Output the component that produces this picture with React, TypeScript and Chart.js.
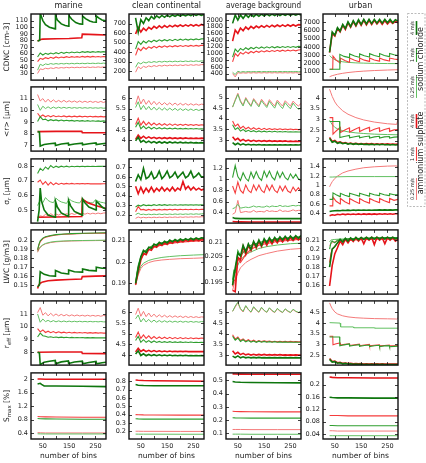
import React, { useEffect, useRef } from 'react';
import { Chart, registerables } from 'chart.js';
Chart.register(...registerables);

// ---------- x grids ----------
const BINS = [30,40,50,60,70,80,90,100,110,120,130,140,150,160,170,180,190,200,210,220,230,240,250,260,270,280,290];
const SMOOTH = [30,35,40,50,60,80,100,130,160,200,250,290];
const FLAT = [30,40,60,100,200,290];
const TAIL = [30,35,40,50,60,80,100,130,160,200,250,285,290];
const MAR_SAW_X = [30,37,40,55,75,97,98,120,147,148,170,200,201,225,252,253,275,290];
const URB_SAW_G_X = [30,68,69,85,105,106,125,143,144,162,181,182,200,219,220,238,257,258,275,290];
const URB_SAW_R_X = [30,42,43,55,70,71,88,105,106,125,143,144,162,181,182,200,219,220,238,257,258,275,290];
const X_TICKS = [50,100,150,200,250];
const X_LABELED = [50,150,250];

const TITLES = ['marine', 'clean continental', 'average background', 'urban'];

// ---------- y ticks ----------
const tkCdncMar = [30,40,50,60,70,80,90,100,110];
const tkCdncCln = [200,300,400,500,600,700];
const tkCdncAvg = [400,600,800,1000,1200,1400,1600,1800,2000];
const tkCdncUrb = [1000,2000,3000,4000,5000,6000,7000];
const tkRMar = [7,8,9,10,11];
const tkRCln = [4,4.5,5,5.5,6];
const tkRAvg = [3,3.5,4,4.5,5];
const tkRUrb = [2,2.5,3,3.5,4];
const tkSgMar = [0.5,0.6,0.7,0.8];
const tkSgCln = [0.2,0.3,0.4,0.5,0.6,0.7];
const tkSgAvg = [0.4,0.6,0.8,1,1.2];
const tkSgUrb = [0.4,0.6,0.8,1,1.2,1.4];
const tkLwcMar = [0.15,0.16,0.17,0.18,0.19,0.2];
const tkLwcCln = [0.19,0.2,0.21];
const tkLwcAvg = [0.195,0.2,0.205,0.21];
const tkLwcUrb = [0.16,0.17,0.18,0.19,0.2,0.21];
const tkReMar = [8,9,10,11];
const tkReCln = [4,4.5,5,5.5,6];
const tkReAvg = [3,3.5,4,4.5,5];
const tkReUrb = [2.5,3,3.5,4,4.5];
const tkSmMar = [0.4,0.8,1.2,1.6,2];
const tkSmCln = [0.2,0.3,0.4,0.5,0.6,0.7,0.8];
const tkSmAvg = [0.1,0.2,0.3,0.4,0.5];
const tkSmUrb = [0.04,0.08,0.12,0.16,0.2];

// ---------- CDNC ----------
const cdncMarG4X = [30,38,40,50,60,75,97,98,105,120,135,148,149,160,175,190,200,201,212,228,240,252,253,262,275,290];
const cdncMarG4 = [79,80,121,110,104,100,97.5,118,111,105,102.5,101.5,117.5,112,107,105,104.5,117,113,109.5,108,107.5,117,114,111,109.5];
const cdncMarR4X = [30,40,50,100,150,198,200,250,290];
const cdncMarR4 = [79,81.5,82,82.5,83,84,89.5,88.8,88.3];
const cdncMarG1 = [55,61,58,60.5,59,61,59.5,61.5,60,62,60.5,62,61,62.5,61.5,62.5,61.5,63,62,63,62,63,62.2,63,62.3,63,62.5];
const cdncMarR1 = [48,53,51.5,54,52.5,54.5,53,55,53.5,55,54,55.5,54.2,55.5,54.5,55.5,54.5,55.8,54.8,55.8,54.8,55.8,55,55.8,55,55.8,55.2];
const cdncMarG025 = [35,44,42,44.5,43.5,45,44,45,44.2,45.2,44.4,45.3,44.5,45.4,44.6,45.5,44.8,45.5,44.8,45.6,45,45.6,45,45.7,45.1,45.7,45.2];
const cdncMarR025 = [30,37,36,38,37,38.5,37.5,39,38,39,38.3,39.3,38.5,39.5,38.7,39.5,38.8,39.7,39,39.8,39,39.8,39.2,40,39.3,40,39.5];

const cdncClnG4 = [760,610,740,700,760,730,775,750,780,760,785,765,788,770,790,775,792,778,793,780,795,782,796,785,797,786,795];
const cdncClnR4 = [590,660,610,650,625,660,640,670,650,675,655,678,660,680,665,682,668,685,670,686,672,688,674,688,675,690,680];
const cdncClnG1 = [430,510,480,515,495,520,505,525,510,528,515,530,518,532,520,534,522,535,525,536,526,537,528,538,530,538,540];
const cdncClnR1 = [365,440,415,450,430,455,440,460,445,462,450,465,452,466,455,467,457,468,458,469,460,470,461,470,462,471,470];
const cdncClnG025 = [240,290,275,295,285,298,290,300,292,302,294,303,296,304,297,305,298,305,299,306,300,306,300,307,301,307,305];
const cdncClnR025 = [188,245,225,250,238,255,245,258,248,260,252,262,254,263,256,264,257,265,258,266,259,267,260,267,261,268,268];

const cdncAvgG4 = [1900,2150,2000,2150,2050,2160,2080,2170,2100,2170,2110,2175,2120,2175,2125,2175,2130,2178,2135,2178,2140,2178,2140,2178,2145,2178,2150];
const cdncAvgR4 = [1370,1700,1600,1760,1680,1790,1720,1810,1750,1820,1770,1830,1780,1840,1790,1845,1800,1850,1805,1855,1810,1858,1815,1860,1820,1862,1855];
const cdncAvgG1 = [890,1130,1050,1150,1100,1170,1120,1180,1140,1190,1150,1195,1160,1200,1165,1205,1170,1205,1175,1208,1180,1210,1182,1210,1185,1212,1210];
const cdncAvgR1 = [750,1000,920,1030,980,1050,1000,1060,1020,1070,1035,1080,1045,1085,1055,1090,1060,1095,1065,1098,1070,1100,1075,1102,1080,1105,1110];
const cdncAvgG025 = [440,370,470,440,460,445,462,448,462,450,463,450,462,452,463,452,462,452,462,453,462,453,462,453,462,453,455];
const cdncAvgR025 = [400,300,430,410,425,412,428,415,428,416,428,417,428,418,428,418,428,418,427,418,427,418,427,418,427,418,420];

const cdncUrbG4 = [3350,5800,5400,6300,5900,6700,6200,7000,6450,7150,6600,7250,6700,7300,6750,7300,6800,7300,6850,7300,6850,7300,6900,7300,6900,7250,7100];
const cdncUrbR4 = [3300,5600,5300,6200,5800,6600,6100,6900,6350,7050,6500,7150,6600,7200,6650,7200,6700,7200,6750,7150,6700,7150,6750,7100,6800,7050,6900];
const cdncUrbG1 = [1300,1300,3100,2850,2700,3150,2900,2750,3150,2920,2780,3180,2950,2800,3200,2960,2820,3200,3050,2950];
const cdncUrbR1 = [1300,1300,2900,2400,2050,2650,2350,2150,2650,2380,2200,2650,2400,2250,2650,2420,2280,2650,2430,2300,2650,2530,2460];
const cdncUrbG025 = [2950,2800,2650,2450,2320,2200,2130,2070,2040,2010,1990,1980];
const cdncUrbR025 = [400,470,530,620,700,820,910,1010,1080,1150,1210,1250];

// ---------- <r> ----------
const rMarR025 = [11.35,10.8,11.0,10.7,10.95,10.7,10.9,10.7,10.85,10.7,10.85,10.7,10.82,10.7,10.8,10.68,10.8,10.68,10.78,10.68,10.78,10.68,10.76,10.67,10.76,10.67,10.75];
const rMarG025 = [10.5,10.0,10.35,10.15,10.3,10.15,10.28,10.17,10.27,10.18,10.26,10.18,10.25,10.18,10.24,10.18,10.24,10.18,10.23,10.18,10.23,10.18,10.22,10.18,10.22,10.18,10.2];
const rMarR1 = [9.75,9.45,9.6,9.45,9.55,9.45,9.55,9.45,9.52,9.45,9.52,9.44,9.5,9.44,9.5,9.44,9.5,9.44,9.49,9.44,9.49,9.44,9.48,9.44,9.48,9.44,9.46];
const rMarG1 = [9.05,9.45,9.2,9.25,9.1,9.2,9.12,9.18,9.1,9.17,9.1,9.15,9.1,9.14,9.08,9.13,9.08,9.12,9.07,9.12,9.07,9.11,9.07,9.1,9.06,9.1,9.06];
const rMarR4X = [30,100,198,200,290];
const rMarR4 = [8.18,8.2,8.2,8.1,8.08];
const rMarG4 = [8.18,8.15,6.95,7.08,7.15,7.2,7.0,7.13,7.2,7.03,7.13,7.2,7.05,7.15,7.22,7.07,7.15,7.18];

const rClnR025 = [5.7,6.1,5.72,5.95,5.7,5.88,5.68,5.84,5.68,5.8,5.67,5.78,5.67,5.77,5.66,5.76,5.66,5.75,5.66,5.74,5.66,5.73,5.66,5.72,5.66,5.71,5.69];
const rClnG025 = [5.55,5.82,5.45,5.65,5.45,5.6,5.43,5.57,5.43,5.55,5.42,5.53,5.42,5.52,5.42,5.51,5.41,5.5,5.41,5.49,5.41,5.48,5.41,5.47,5.41,5.46,5.43];
const rClnR1 = [4.75,5.05,4.72,4.9,4.72,4.85,4.72,4.82,4.72,4.8,4.71,4.79,4.71,4.78,4.71,4.77,4.71,4.76,4.71,4.76,4.71,4.75,4.71,4.75,4.71,4.74,4.72];
const rClnG1 = [4.62,4.85,4.55,4.68,4.55,4.64,4.54,4.62,4.54,4.6,4.54,4.59,4.54,4.58,4.54,4.58,4.54,4.57,4.54,4.57,4.54,4.56,4.54,4.56,4.54,4.55,4.54];
const rClnR4 = [4.05,4.25,4.1,4.2,4.1,4.17,4.1,4.15,4.09,4.14,4.09,4.13,4.09,4.13,4.09,4.12,4.09,4.12,4.09,4.12,4.09,4.11,4.09,4.11,4.09,4.11,4.1];
const rClnG4 = [3.98,4.15,3.92,4.0,3.9,3.97,3.89,3.95,3.88,3.94,3.88,3.93,3.88,3.93,3.88,3.92,3.88,3.92,3.88,3.91,3.88,3.91,3.88,3.9,3.88,3.9,3.88];

const rAvgR025 = [4.55,4.9,5.2,4.85,4.65,5.0,4.8,4.62,4.95,4.78,4.62,4.92,4.76,4.6,4.9,4.74,4.6,4.88,4.73,4.6,4.85,4.72,4.6,4.83,4.7,4.6,4.72];
const rAvgG025 = [4.55,4.85,5.15,4.8,4.6,4.95,4.75,4.58,4.9,4.72,4.56,4.85,4.68,4.53,4.82,4.65,4.5,4.8,4.62,4.48,4.76,4.6,4.47,4.74,4.57,4.45,4.5];
const rAvgR1 = [3.9,3.65,3.75,3.55,3.65,3.52,3.6,3.5,3.58,3.5,3.56,3.49,3.55,3.49,3.54,3.49,3.53,3.49,3.53,3.49,3.52,3.49,3.52,3.49,3.51,3.49,3.5];
const rAvgG1 = [3.72,3.5,3.58,3.42,3.5,3.4,3.46,3.39,3.44,3.38,3.43,3.38,3.42,3.38,3.41,3.38,3.41,3.38,3.4,3.38,3.4,3.38,3.39,3.38,3.39,3.38,3.38];
const rAvgR4 = [3.15,3.0,3.08,2.96,3.03,2.95,3.0,2.94,2.99,2.94,2.98,2.94,2.97,2.94,2.97,2.94,2.96,2.94,2.96,2.94,2.96,2.93,2.95,2.93,2.95,2.93,2.94];
const rAvgG4 = [2.88,2.78,2.85,2.77,2.82,2.77,2.8,2.77,2.79,2.77,2.79,2.77,2.78,2.77,2.78,2.77,2.78,2.77,2.78,2.77,2.78,2.77,2.78,2.77,2.78,2.77,2.78];

const rUrbR025 = [4.42,4.25,4.08,3.82,3.64,3.4,3.24,3.08,2.97,2.87,2.79,2.76,3.0];
const rUrbG025 = [2.95,2.85,2.75,2.62,2.55,2.46,2.41,2.36,2.33,2.3,2.28,2.27];
const rUrbR1 = [3.08,3.08,2.3,2.45,2.62,2.38,2.5,2.6,2.4,2.52,2.62,2.42,2.53,2.62,2.43,2.53,2.6,2.43,2.52,2.58,2.43,2.5,2.52];
const rUrbG1 = [2.9,2.9,2.14,2.19,2.24,2.13,2.18,2.22,2.13,2.18,2.21,2.12,2.17,2.2,2.12,2.17,2.19,2.12,2.16,2.17];
const rUrbR4 = [2.15,1.95,2.0,1.9,1.94,1.87,1.9,1.85,1.88,1.84,1.87,1.83,1.86,1.83,1.85,1.83,1.85,1.82,1.84,1.82,1.84,1.82,1.84,1.82,1.83,1.82,1.83];
const rUrbG4 = [2.1,1.92,1.97,1.87,1.91,1.85,1.88,1.83,1.86,1.82,1.85,1.81,1.84,1.81,1.83,1.8,1.83,1.8,1.82,1.8,1.82,1.8,1.81,1.79,1.81,1.79,1.8];

// ---------- sigma_r ----------
const sgMarG1 = [0.75,0.785,0.77,0.795,0.78,0.805,0.79,0.8,0.792,0.8,0.795,0.8,0.795,0.8,0.796,0.8,0.797,0.8,0.797,0.8,0.798,0.8,0.798,0.8,0.799,0.8,0.8];
const sgMarR1 = [0.69,0.705,0.675,0.695,0.67,0.69,0.672,0.685,0.675,0.683,0.677,0.682,0.678,0.682,0.678,0.681,0.679,0.681,0.679,0.681,0.679,0.68,0.679,0.68,0.679,0.68,0.68];
const sgMarG025 = [0.53,0.57,0.55,0.585,0.565,0.555,0.55,0.58,0.565,0.555,0.55,0.545,0.575,0.562,0.555,0.55,0.548,0.575,0.562,0.555,0.55,0.548,0.57,0.56,0.553,0.55,0.545];
const sgMarR025 = [0.45,0.46,0.455,0.47,0.46,0.475,0.462,0.472,0.465,0.474,0.466,0.475,0.468,0.476,0.469,0.477,0.47,0.477,0.471,0.478,0.472,0.478,0.473,0.479,0.474,0.479,0.48];
const sgMarG4X = [30,36,40,45,55,70,97,98,105,120,147,148,155,170,200,201,210,225,252,253,262,275,290];
const sgMarG4 = [0.42,0.5,0.65,0.56,0.5,0.465,0.45,0.56,0.52,0.48,0.455,0.565,0.53,0.49,0.465,0.575,0.55,0.52,0.5,0.56,0.545,0.52,0.505];
const sgMarR4X = [30,100,198,200,220,250,290];
const sgMarR4 = [0.45,0.452,0.455,0.575,0.55,0.53,0.51];

const sgClnG4 = [0.55,0.62,0.57,0.69,0.58,0.6,0.65,0.58,0.6,0.66,0.58,0.61,0.66,0.59,0.61,0.65,0.59,0.62,0.65,0.59,0.61,0.66,0.59,0.61,0.64,0.6,0.6];
const sgClnR4 = [0.5,0.42,0.49,0.43,0.48,0.44,0.49,0.44,0.48,0.45,0.49,0.45,0.48,0.45,0.49,0.45,0.48,0.46,0.55,0.47,0.5,0.46,0.49,0.46,0.48,0.46,0.47];
const sgClnG1 = [0.28,0.3,0.29,0.305,0.295,0.3,0.295,0.305,0.297,0.305,0.298,0.305,0.298,0.305,0.299,0.305,0.299,0.305,0.3,0.305,0.3,0.305,0.3,0.305,0.3,0.305,0.3];
const sgClnR1 = [0.23,0.285,0.25,0.255,0.245,0.255,0.247,0.255,0.248,0.255,0.249,0.255,0.25,0.256,0.25,0.256,0.25,0.256,0.251,0.256,0.251,0.256,0.252,0.256,0.252,0.256,0.255];
const sgClnG025 = [0.2,0.215,0.2,0.205,0.198,0.205,0.199,0.205,0.2,0.206,0.2,0.206,0.201,0.206,0.201,0.207,0.202,0.207,0.202,0.207,0.203,0.208,0.203,0.208,0.204,0.208,0.21];
const sgClnR025 = [0.16,0.175,0.165,0.172,0.166,0.172,0.167,0.173,0.168,0.173,0.168,0.174,0.169,0.174,0.17,0.175,0.17,0.175,0.171,0.176,0.172,0.176,0.173,0.177,0.174,0.177,0.178];

const sgAvgG1 = [1.03,1.25,1.05,0.98,1.12,1.02,0.97,1.13,1.02,1.14,1.03,0.98,1.15,1.04,1.15,1.04,0.99,1.14,1.03,1.13,1.03,0.99,1.1,1.02,1.09,1.01,0.98];
const sgAvgR1 = [0.88,0.75,0.95,0.8,0.75,0.9,0.8,0.76,0.9,0.8,0.9,0.8,0.76,0.9,0.8,0.9,0.8,0.76,0.88,0.79,0.88,0.79,0.76,0.86,0.79,0.85,0.78];
const sgAvgG025 = [0.47,0.49,0.55,0.48,0.49,0.5,0.49,0.5,0.52,0.5,0.51,0.5,0.5,0.52,0.5,0.52,0.51,0.51,0.53,0.51,0.52,0.51,0.52,0.53,0.52,0.53,0.52];
const sgAvgR025 = [0.37,0.4,0.62,0.4,0.41,0.42,0.41,0.41,0.44,0.41,0.42,0.42,0.41,0.44,0.42,0.43,0.42,0.42,0.45,0.42,0.43,0.42,0.43,0.45,0.43,0.44,0.44];
const sgAvgG4 = [0.31,0.295,0.29,0.29,0.29,0.29];
const sgAvgR4 = [0.24,0.235,0.232,0.23,0.23,0.23];

const sgUrbR025 = [0.97,1.03,1.08,1.15,1.2,1.27,1.31,1.35,1.38,1.4,1.415,1.42,1.38];
const sgUrbG025 = [1.18,1.18,1.185,1.19,1.19,1.19];
const sgUrbG1 = [0.7,0.7,0.84,0.8,0.76,0.83,0.79,0.76,0.83,0.8,0.77,0.83,0.8,0.77,0.83,0.8,0.78,0.83,0.8,0.78,0.82,0.8,0.8];
const sgUrbR1 = [0.56,0.56,0.75,0.66,0.6,0.72,0.65,0.6,0.72,0.66,0.61,0.72,0.66,0.62,0.72,0.67,0.63,0.72,0.67,0.63,0.72,0.68,0.7];
const sgUrbG4 = [0.44,0.45,0.455,0.46,0.455,0.465,0.46,0.468,0.462,0.47,0.464,0.47,0.465,0.472,0.466,0.472,0.467,0.473,0.468,0.474,0.468,0.474,0.469,0.475,0.47,0.475,0.475];
const sgUrbR4 = [0.35,0.37,0.36,0.38,0.37,0.385,0.372,0.385,0.374,0.386,0.375,0.387,0.376,0.388,0.377,0.388,0.378,0.389,0.378,0.39,0.379,0.39,0.38,0.39,0.38,0.39,0.39];

// ---------- LWC ----------
const lwcMarG1 = [0.19,0.196,0.2,0.203,0.2045,0.206,0.207,0.2077,0.2081,0.2085,0.2088,0.209];
const lwcMarR1 = [0.189,0.195,0.199,0.2025,0.204,0.2055,0.2065,0.2073,0.2078,0.2082,0.2085,0.2087];
const lwcMarG025 = [0.188,0.191,0.193,0.1955,0.197,0.1985,0.1993,0.1998,0.2001,0.2003,0.2005,0.2007];
const lwcMarR025 = [0.187,0.19,0.1925,0.195,0.1965,0.198,0.1988,0.1994,0.1998,0.2,0.2002,0.2004];
const lwcMarG4 = [0.148,0.15,0.165,0.162,0.1605,0.16,0.1665,0.1635,0.1625,0.167,0.165,0.1645,0.168,0.1665,0.166,0.17,0.169,0.169];
const lwcMarR4X = [30,35,40,50,70,100,150,197,200,250,290];
const lwcMarR4 = [0.146,0.15,0.152,0.1535,0.1548,0.1555,0.1562,0.1568,0.1595,0.16,0.1603];

const lwcClnG4 = [0.19,0.197,0.2025,0.2055,0.2045,0.207,0.2065,0.2085,0.2078,0.2093,0.2085,0.2098,0.209,0.2103,0.2095,0.2106,0.2098,0.2108,0.2101,0.211,0.2103,0.2112,0.2105,0.2113,0.2107,0.2114,0.2113];
const lwcClnR4 = [0.1895,0.1955,0.201,0.204,0.2035,0.206,0.2055,0.2075,0.207,0.2085,0.2078,0.209,0.2083,0.2095,0.2088,0.2098,0.2092,0.21,0.2095,0.2102,0.2097,0.2104,0.2099,0.2105,0.21,0.2106,0.2105];
const lwcClnG1 = [0.19,0.195,0.1985,0.2025,0.2045,0.2068,0.208,0.209,0.2097,0.2103,0.2108,0.211];
const lwcClnR1 = [0.1893,0.194,0.1975,0.2015,0.2035,0.2058,0.207,0.208,0.2087,0.2093,0.2098,0.21];
const lwcClnG025 = [0.19,0.1925,0.195,0.198,0.1995,0.2008,0.2015,0.2022,0.2026,0.203,0.2033,0.2035];
const lwcClnR025 = [0.1892,0.1918,0.194,0.197,0.1985,0.1998,0.2005,0.201,0.2013,0.2016,0.2018,0.202];

const lwcAvgG4 = [0.194,0.2005,0.206,0.205,0.209,0.2065,0.2095,0.2075,0.2105,0.2085,0.211,0.209,0.2115,0.21,0.2118,0.2103,0.212,0.2107,0.2122,0.211,0.2124,0.2112,0.2125,0.2114,0.2126,0.2116,0.2127];
const lwcAvgR4 = [0.192,0.1915,0.2045,0.2035,0.2085,0.2055,0.209,0.207,0.21,0.208,0.2105,0.2085,0.2108,0.209,0.2111,0.2095,0.2113,0.2099,0.2115,0.2103,0.2117,0.2106,0.2118,0.2108,0.2119,0.211,0.2118];
const lwcAvgG1 = [0.196,0.1995,0.199,0.207,0.205,0.2075,0.209,0.21,0.2107,0.2114,0.2119,0.2122];
const lwcAvgR1 = [0.1935,0.196,0.1955,0.204,0.2025,0.2055,0.2075,0.209,0.2097,0.2104,0.2109,0.2113];
const lwcAvgG025 = [0.195,0.197,0.1985,0.2015,0.2035,0.2055,0.2065,0.2078,0.2085,0.2091,0.2096,0.2098];
const lwcAvgR025 = [0.192,0.194,0.196,0.1985,0.2005,0.2025,0.2037,0.2051,0.2059,0.2068,0.2075,0.2078];

const lwcUrbG4 = [0.18,0.2,0.203,0.207,0.211,0.208,0.212,0.209,0.2125,0.21,0.213,0.2105,0.213,0.211,0.2132,0.211,0.2132,0.2112,0.2133,0.2112,0.2133,0.2113,0.2133,0.2115,0.2132,0.2115,0.2125];
const lwcUrbR4 = [0.159,0.182,0.195,0.2015,0.209,0.205,0.211,0.207,0.2115,0.2085,0.2125,0.209,0.2125,0.206,0.2125,0.21,0.213,0.205,0.213,0.21,0.2128,0.206,0.2128,0.21,0.2128,0.209,0.211];
const lwcUrbG1 = [0.2,0.207,0.209,0.207,0.21,0.2105,0.2115,0.2118,0.212,0.2125,0.2128,0.213];
const lwcUrbR1 = [0.185,0.195,0.2,0.203,0.207,0.209,0.21,0.2105,0.211,0.2115,0.2118,0.212];
const lwcUrbG025 = [0.208,0.21,0.2105,0.2108,0.211,0.2113,0.2115,0.2117,0.2119,0.212,0.2121,0.2122];
const lwcUrbR025 = [0.204,0.206,0.207,0.2085,0.209,0.2097,0.21,0.2103,0.2105,0.2108,0.2109,0.211];

// ---------- r_eff ----------
const reMarR025 = [11.1,11.5,10.9,11.1,10.85,11.05,10.85,11.0,10.85,10.97,10.85,10.95,10.84,10.93,10.84,10.92,10.84,10.9,10.83,10.9,10.83,10.89,10.83,10.88,10.82,10.88,10.85];
const reMarG025 = [11.0,10.35,10.6,10.4,10.5,10.38,10.48,10.38,10.46,10.38,10.45,10.38,10.44,10.38,10.43,10.38,10.43,10.38,10.42,10.38,10.42,10.38,10.41,10.38,10.41,10.38,10.38];
const reMarR1 = [9.85,9.6,9.75,9.55,9.65,9.53,9.62,9.52,9.6,9.52,9.58,9.51,9.57,9.51,9.56,9.51,9.55,9.51,9.55,9.5,9.54,9.5,9.54,9.5,9.53,9.5,9.5];
const reMarG1 = [9.2,9.5,9.3,9.25,9.18,9.22,9.16,9.2,9.15,9.19,9.15,9.18,9.14,9.17,9.14,9.16,9.14,9.16,9.13,9.15,9.13,9.15,9.13,9.14,9.13,9.14,9.13];
const reMarR4X = [30,100,198,200,290];
const reMarR4 = [8.0,8.02,8.02,7.92,7.9];
const reMarG4 = [8.0,7.95,7.05,7.22,7.3,7.36,7.1,7.25,7.33,7.12,7.24,7.31,7.1,7.2,7.28,7.1,7.18,7.22];

const reClnR025 = [5.9,6.2,5.82,6.05,5.8,5.97,5.79,5.92,5.78,5.89,5.78,5.87,5.77,5.85,5.77,5.84,5.77,5.83,5.76,5.82,5.76,5.81,5.76,5.8,5.76,5.79,5.78];
const reClnG025 = [5.7,5.88,5.55,5.72,5.55,5.67,5.54,5.64,5.54,5.62,5.54,5.61,5.54,5.6,5.54,5.59,5.54,5.59,5.54,5.58,5.54,5.58,5.54,5.57,5.54,5.57,5.56];
const reClnR1 = [4.82,5.08,4.78,4.95,4.78,4.9,4.77,4.87,4.77,4.85,4.77,4.84,4.77,4.83,4.77,4.82,4.77,4.82,4.77,4.81,4.77,4.81,4.77,4.8,4.77,4.8,4.79];
const reClnG1 = [4.68,4.88,4.6,4.72,4.6,4.68,4.59,4.66,4.59,4.64,4.59,4.63,4.59,4.63,4.59,4.62,4.59,4.62,4.59,4.61,4.59,4.61,4.59,4.6,4.59,4.6,4.59];
const reClnR4 = [4.15,4.32,4.17,4.25,4.16,4.22,4.16,4.21,4.16,4.2,4.16,4.19,4.16,4.19,4.16,4.18,4.16,4.18,4.16,4.18,4.16,4.17,4.16,4.17,4.16,4.17,4.16];
const reClnG4 = [4.05,4.2,3.98,4.06,3.97,4.03,3.97,4.02,3.97,4.01,3.97,4.0,3.97,4.0,3.97,3.99,3.97,3.99,3.97,3.99,3.97,3.98,3.97,3.98,3.97,3.98,3.97];

const reAvgR025 = [5.05,5.25,5.45,5.15,5.02,5.3,5.12,5.0,5.25,5.1,5.0,5.22,5.08,5.0,5.2,5.07,4.99,5.17,5.06,4.99,5.15,5.05,4.99,5.13,5.04,4.99,5.03];
const reAvgG025 = [5.05,5.3,5.48,5.18,5.05,5.32,5.14,5.02,5.27,5.12,5.02,5.24,5.1,5.01,5.22,5.09,5.01,5.19,5.08,5.0,5.17,5.07,5.0,5.15,5.06,5.0,5.06];
const reAvgR1 = [3.95,3.75,3.85,3.68,3.76,3.65,3.72,3.64,3.7,3.63,3.68,3.63,3.67,3.63,3.66,3.62,3.65,3.62,3.65,3.62,3.64,3.62,3.64,3.62,3.63,3.62,3.62];
const reAvgG1 = [3.88,3.7,3.8,3.64,3.72,3.62,3.68,3.61,3.66,3.6,3.65,3.6,3.64,3.6,3.63,3.6,3.63,3.6,3.62,3.6,3.62,3.6,3.61,3.6,3.61,3.6,3.6];
const reAvgR4 = [3.2,3.05,3.13,3.02,3.08,3.01,3.05,3.0,3.04,3.0,3.03,3.0,3.03,3.0,3.02,3.0,3.02,3.0,3.02,3.0,3.01,3.0,3.01,3.0,3.01,3.0,3.0];
const reAvgG4 = [2.95,2.88,2.96,2.87,2.92,2.87,2.9,2.87,2.89,2.87,2.89,2.87,2.88,2.87,2.88,2.87,2.88,2.87,2.88,2.87,2.88,2.87,2.88,2.87,2.88,2.87,2.87];

const reUrbR025 = [4.95,4.8,4.68,4.52,4.43,4.34,4.29,4.25,4.23,4.21,4.2,4.19,4.25];
const reUrbG025X = [30,70,72,120,122,200,202,290];
const reUrbG025 = [4.02,4.0,3.82,3.82,3.78,3.78,3.76,3.76];
const reUrbR1 = [3.38,3.38,2.98,3.03,3.07,2.97,3.0,3.03,2.95,2.98,3.01,2.94,2.97,3.0,2.94,2.96,2.98,2.93,2.95,2.97,2.93,2.94,2.95];
const reUrbG1 = [3.35,3.35,2.93,2.98,3.02,2.92,2.96,2.99,2.91,2.95,2.97,2.9,2.94,2.96,2.9,2.93,2.94,2.89,2.91,2.92];
const reUrbR4 = [2.34,2.2,2.22,2.14,2.16,2.11,2.13,2.1,2.11,2.09,2.1,2.09,2.1,2.08,2.09,2.08,2.09,2.08,2.09,2.08,2.09,2.08,2.08,2.08,2.08,2.08,2.08];
const reUrbG4 = [2.3,2.17,2.19,2.12,2.14,2.09,2.11,2.08,2.09,2.07,2.08,2.07,2.08,2.06,2.07,2.06,2.07,2.06,2.07,2.06,2.07,2.06,2.06,2.06,2.06,2.06,2.06];

// ---------- Smax ----------
const smMarR4 = [2.01,2.01,2.0,2.0,2.0,2.0];
const smMarG4X = [30,40,45,55,70,100,200,290];
const smMarG4 = [1.86,1.88,1.85,1.8,1.8,1.8,1.79,1.78];
const smMarR1 = [0.89,0.885,0.88,0.875,0.87,0.87];
const smMarG1 = [0.83,0.825,0.82,0.815,0.81,0.81];
const smMarR025 = [0.41,0.405,0.4,0.4,0.4,0.4];
const smMarG025 = [0.375,0.372,0.37,0.37,0.37,0.37];

const smClnR4 = [0.815,0.812,0.808,0.805,0.802,0.8];
const smClnG4 = [0.76,0.752,0.748,0.746,0.745,0.745];
const smClnR1 = [0.4,0.398,0.396,0.395,0.394,0.394];
const smClnG1 = [0.35,0.348,0.346,0.345,0.345,0.345];
const smClnR025 = [0.2,0.2,0.199,0.199,0.198,0.198];
const smClnG025 = [0.166,0.165,0.165,0.165,0.164,0.164];

const smAvgR4 = [0.548,0.547,0.546,0.545,0.545,0.545];
const smAvgG4 = [0.49,0.487,0.485,0.483,0.481,0.48];
const smAvgR1 = [0.267,0.265,0.264,0.263,0.262,0.262];
const smAvgG1 = [0.218,0.217,0.216,0.215,0.215,0.215];
const smAvgR025 = [0.13,0.13,0.13,0.129,0.129,0.129];
const smAvgG025 = [0.095,0.095,0.095,0.094,0.094,0.094];

const smUrbR4 = [0.224,0.223,0.222,0.222,0.221,0.221];
const smUrbG4 = [0.159,0.158,0.157,0.157,0.156,0.156];
const smUrbR1 = [0.1,0.1,0.1,0.099,0.099,0.099];
const smUrbG1 = [0.068,0.068,0.067,0.067,0.067,0.067];
const smUrbR025 = [0.051,0.051,0.05,0.05,0.05,0.05];
const smUrbG025 = [0.035,0.035,0.035,0.035,0.035,0.035];

// ---------- styles ----------
const STY: any = {
  G4: { c: '#0e760e', w: 1.6 },
  G1: { c: '#2f9e2f', w: 1.1 },
  G025: { c: '#62c062', w: 1.0 },
  R4: { c: '#e5141a', w: 1.6 },
  R1: { c: '#f53c3c', w: 1.1 },
  R025: { c: '#f47a7a', w: 1.0 },
};

const s = (k: string, x: number[], y: number[]) => ({ k, x, y });
const P = (min: number, max: number, ticks: number[], series: any[]) => ({ min, max, ticks, series });

const PANELS = [
  [
    P(20, 120, tkCdncMar, [s('G4', cdncMarG4X, cdncMarG4), s('R4', cdncMarR4X, cdncMarR4), s('G1', BINS, cdncMarG1), s('R1', BINS, cdncMarR1), s('G025', BINS, cdncMarG025), s('R025', BINS, cdncMarR025)]),
    P(105, 800, tkCdncCln, [s('G4', BINS, cdncClnG4), s('R4', BINS, cdncClnR4), s('G1', BINS, cdncClnG1), s('R1', BINS, cdncClnR1), s('G025', BINS, cdncClnG025), s('R025', BINS, cdncClnR025)]),
    P(205, 2180, tkCdncAvg, [s('G4', BINS, cdncAvgG4), s('R4', BINS, cdncAvgR4), s('G1', BINS, cdncAvgG1), s('R1', BINS, cdncAvgR1), s('G025', BINS, cdncAvgG025), s('R025', BINS, cdncAvgR025)]),
    P(0, 7950, tkCdncUrb, [s('G4', BINS, cdncUrbG4), s('R4', BINS, cdncUrbR4), s('G1', URB_SAW_G_X, cdncUrbG1), s('R1', URB_SAW_R_X, cdncUrbR1), s('G025', SMOOTH, cdncUrbG025), s('R025', SMOOTH, cdncUrbR025)]),
  ],
  [
    P(6.52, 12.0, tkRMar, [s('G4', MAR_SAW_X, rMarG4), s('R4', rMarR4X, rMarR4), s('G1', BINS, rMarG1), s('R1', BINS, rMarR1), s('G025', BINS, rMarG025), s('R025', BINS, rMarR025)]),
    P(3.5, 6.52, tkRCln, [s('G4', BINS, rClnG4), s('R4', BINS, rClnR4), s('G1', BINS, rClnG1), s('R1', BINS, rClnR1), s('G025', BINS, rClnG025), s('R025', BINS, rClnR025)]),
    P(2.48, 5.5, tkRAvg, [s('G4', BINS, rAvgG4), s('R4', BINS, rAvgR4), s('G1', BINS, rAvgG1), s('R1', BINS, rAvgR1), s('G025', BINS, rAvgG025), s('R025', BINS, rAvgR025)]),
    P(1.5, 4.53, tkRUrb, [s('G4', BINS, rUrbG4), s('R4', BINS, rUrbR4), s('G1', URB_SAW_G_X, rUrbG1), s('R1', URB_SAW_R_X, rUrbR1), s('G025', SMOOTH, rUrbG025), s('R025', TAIL, rUrbR025)]),
  ],
  [
    P(0.41, 0.85, tkSgMar, [s('G4', sgMarG4X, sgMarG4), s('R4', sgMarR4X, sgMarR4), s('G1', BINS, sgMarG1), s('R1', BINS, sgMarR1), s('G025', BINS, sgMarG025), s('R025', BINS, sgMarR025)]),
    P(0.11, 0.79, tkSgCln, [s('G4', BINS, sgClnG4), s('R4', BINS, sgClnR4), s('G1', BINS, sgClnG1), s('R1', BINS, sgClnR1), s('G025', BINS, sgClnG025), s('R025', BINS, sgClnR025)]),
    P(0.21, 1.37, tkSgAvg, [s('G4', FLAT, sgAvgG4), s('R4', FLAT, sgAvgR4), s('G1', BINS, sgAvgG1), s('R1', BINS, sgAvgR1), s('G025', BINS, sgAvgG025), s('R025', BINS, sgAvgR025)]),
    P(0.19, 1.57, tkSgUrb, [s('G4', BINS, sgUrbG4), s('R4', BINS, sgUrbR4), s('G1', URB_SAW_R_X, sgUrbG1), s('R1', URB_SAW_R_X, sgUrbR1), s('G025', FLAT, sgUrbG025), s('R025', TAIL, sgUrbR025)]),
  ],
  [
    P(0.1397, 0.2123, tkLwcMar, [s('G4', MAR_SAW_X, lwcMarG4), s('R4', lwcMarR4X, lwcMarR4), s('G1', SMOOTH, lwcMarG1), s('R1', SMOOTH, lwcMarR1), s('G025', SMOOTH, lwcMarG025), s('R025', SMOOTH, lwcMarR025)]),
    P(0.185, 0.2151, tkLwcCln, [s('G4', BINS, lwcClnG4), s('R4', BINS, lwcClnR4), s('G1', SMOOTH, lwcClnG1), s('R1', SMOOTH, lwcClnR1), s('G025', SMOOTH, lwcClnG025), s('R025', SMOOTH, lwcClnR025)]),
    P(0.1906, 0.2148, tkLwcAvg, [s('G4', BINS, lwcAvgG4), s('R4', BINS, lwcAvgR4), s('G1', SMOOTH, lwcAvgG1), s('R1', SMOOTH, lwcAvgR1), s('G025', SMOOTH, lwcAvgG025), s('R025', SMOOTH, lwcAvgR025)]),
    P(0.15, 0.2214, tkLwcUrb, [s('G4', BINS, lwcUrbG4), s('R4', BINS, lwcUrbR4), s('G1', SMOOTH, lwcUrbG1), s('R1', SMOOTH, lwcUrbR1), s('G025', SMOOTH, lwcUrbG025), s('R025', SMOOTH, lwcUrbR025)]),
  ],
  [
    P(7.0, 12.02, tkReMar, [s('G4', MAR_SAW_X, reMarG4), s('R4', reMarR4X, reMarR4), s('G1', BINS, reMarG1), s('R1', BINS, reMarR1), s('G025', BINS, reMarG025), s('R025', BINS, reMarR025)]),
    P(3.53, 6.54, tkReCln, [s('G4', BINS, reClnG4), s('R4', BINS, reClnR4), s('G1', BINS, reClnG1), s('R1', BINS, reClnR1), s('G025', BINS, reClnG025), s('R025', BINS, reClnR025)]),
    P(2.53, 5.54, tkReAvg, [s('G4', BINS, reAvgG4), s('R4', BINS, reAvgR4), s('G1', BINS, reAvgG1), s('R1', BINS, reAvgR1), s('G025', BINS, reAvgG025), s('R025', BINS, reAvgR025)]),
    P(2.03, 5.04, tkReUrb, [s('G4', BINS, reUrbG4), s('R4', BINS, reUrbR4), s('G1', URB_SAW_G_X, reUrbG1), s('R1', URB_SAW_R_X, reUrbR1), s('G025', reUrbG025X, reUrbG025), s('R025', TAIL, reUrbR025)]),
  ],
  [
    P(0.22, 2.19, tkSmMar, [s('G4', smMarG4X, smMarG4), s('R4', FLAT, smMarR4), s('G1', FLAT, smMarG1), s('R1', FLAT, smMarR1), s('G025', FLAT, smMarG025), s('R025', FLAT, smMarR025)]),
    P(0.107, 0.9, tkSmCln, [s('G4', FLAT, smClnG4), s('R4', FLAT, smClnR4), s('G1', FLAT, smClnG1), s('R1', FLAT, smClnR1), s('G025', FLAT, smClnG025), s('R025', FLAT, smClnR025)]),
    P(0.0585, 0.555, tkSmAvg, [s('G4', FLAT, smAvgG4), s('R4', FLAT, smAvgR4), s('G1', FLAT, smAvgG1), s('R1', FLAT, smAvgR1), s('G025', FLAT, smAvgG025), s('R025', FLAT, smAvgR025)]),
    P(0.0244, 0.2374, tkSmUrb, [s('G4', FLAT, smUrbG4), s('R4', FLAT, smUrbR4), s('G1', FLAT, smUrbG1), s('R1', FLAT, smUrbR1), s('G025', FLAT, smUrbG025), s('R025', FLAT, smUrbR025)]),
  ],
];

const Y_TITLES = [
  { main: 'CDNC [cm-3]' },
  { main: '<r> [µm]' },
  { main: 'σ', sub: 'r', rest: ' [µm]' },
  { main: 'LWC [g/m3]' },
  { main: 'r', sub: 'eff', rest: ' [µm]' },
  { main: 'S', sub: 'max', rest: ' [%]' },
];

// ---------- layout ----------
const COL_LEFT = [31, 129, 226, 323];
const ROW_TOP = [14, 85, 157, 228, 299, 371];
const PW = 75;
const PH = 68;
const YW = 30;
const FONT = 'DejaVu Sans';
const TXT = '#222';

const framePlugin = {
  id: 'frame',
  afterDatasetsDraw(chart: any) {
    const { ctx, chartArea: a } = chart;
    const xs = chart.scales.x;
    const ys = chart.scales.y;
    ctx.save();
    ctx.strokeStyle = '#111';
    ctx.lineWidth = 0.8;
    ctx.beginPath();
    for (const v of X_TICKS) {
      const px = Math.round(xs.getPixelForValue(v)) + 0.5;
      ctx.moveTo(px, a.bottom); ctx.lineTo(px, a.bottom - 3);
      ctx.moveTo(px, a.top); ctx.lineTo(px, a.top + 3);
    }
    for (const t of ys.ticks) {
      const py = Math.round(ys.getPixelForValue(t.value)) + 0.5;
      ctx.moveTo(a.left, py); ctx.lineTo(a.left + 3, py);
      ctx.moveTo(a.right, py); ctx.lineTo(a.right - 3, py);
    }
    ctx.stroke();
    ctx.lineWidth = 1.4;
    ctx.strokeRect(a.left, a.top, a.right - a.left, a.bottom - a.top);
    ctx.restore();
  },
};

const makeYTitle = (t: any) => ({
  id: 'ytitle',
  afterDraw(chart: any) {
    const { ctx, chartArea: a } = chart;
    const f1 = `7.5px "${FONT}"`;
    const f2 = `5.5px "${FONT}"`;
    ctx.save();
    ctx.translate(6.5, (a.top + a.bottom) / 2);
    ctx.rotate(-Math.PI / 2);
    ctx.fillStyle = TXT;
    ctx.textBaseline = 'middle';
    ctx.textAlign = 'left';
    ctx.font = f1;
    const w1 = ctx.measureText(t.main).width;
    const w3 = t.rest ? ctx.measureText(t.rest).width : 0;
    ctx.font = f2;
    const w2 = t.sub ? ctx.measureText(t.sub).width : 0;
    let x = -(w1 + w2 + w3) / 2;
    ctx.font = f1;
    ctx.fillText(t.main, x, 0);
    x += w1;
    if (t.sub) { ctx.font = f2; ctx.fillText(t.sub, x, 2); x += w2; }
    if (t.rest) { ctx.font = f1; ctx.fillText(t.rest, x, 0); }
    ctx.restore();
  },
});

function Panel({ p, row, col }: any) {
  const ref = useRef<HTMLCanvasElement>(null);
  const isTop = row === 0;
  const isBottom = row === PANELS.length - 1;
  const padTop = isTop ? 0 : 5;
  const topSpace = isTop ? 14 : 5;
  const bottomSpace = isBottom ? 22 : 5;
  const h = topSpace + PH + bottomSpace;
  const w = YW + PW + 4;
  useEffect(() => {
    const xScale: any = {
      type: 'linear', min: 5, max: 290, display: isBottom,
      grid: { display: false, drawTicks: false }, border: { display: false },
      afterBuildTicks: (sc: any) => { sc.ticks = X_TICKS.map((v) => ({ value: v })); },
      ticks: {
        callback: (v: any) => (X_LABELED.includes(v) ? String(v) : ''),
        font: { family: FONT, size: 6.5 }, color: TXT, padding: 3, autoSkip: false, maxRotation: 0,
      },
      title: { display: true, text: 'number of bins', font: { family: FONT, size: 7.5 }, color: TXT, padding: { top: 0, bottom: 0 } },
    };
    if (isBottom) xScale.afterFit = (sc: any) => { sc.height = 22; };
    const chart = new Chart(ref.current as HTMLCanvasElement, {
      type: 'line',
      data: {
        datasets: p.series.map((se: any) => ({
          data: se.x.map((x: number, i: number) => ({ x, y: se.y[i] })),
          borderColor: STY[se.k].c,
          borderWidth: STY[se.k].w,
          pointRadius: 0,
          fill: false,
          tension: 0,
          clip: 0,
        })),
      },
      options: {
        animation: false,
        responsive: false,
        devicePixelRatio: 1,
        events: [],
        layout: { padding: { left: 0, right: 4, top: padTop, bottom: isBottom ? 0 : 5 } },
        plugins: {
          legend: { display: false },
          tooltip: { enabled: false },
          title: {
            display: isTop, text: TITLES[col], fullSize: false,
            font: { family: FONT, size: 8, weight: 'normal' }, color: TXT,
            padding: { top: 1.4, bottom: 3 },
          },
        },
        scales: {
          x: xScale,
          y: {
            type: 'linear', min: p.min, max: p.max,
            grid: { display: false, drawTicks: false }, border: { display: false },
            afterBuildTicks: (sc: any) => { sc.ticks = p.ticks.map((v: number) => ({ value: v })); },
            ticks: { callback: (v: any) => String(v), font: { family: FONT, size: 6.5 }, color: TXT, padding: 3, autoSkip: false },
            afterFit: (sc: any) => { sc.width = YW; },
          },
        },
      } as any,
      plugins: col === 0 ? [framePlugin, makeYTitle(Y_TITLES[row])] : [framePlugin],
    });
    return () => chart.destroy();
  }, []);
  return (
    <canvas
      ref={ref}
      width={w}
      height={h}
      style={{ position: 'absolute', left: COL_LEFT[col] - YW, top: ROW_TOP[row] - topSpace, width: w, height: h }}
    />
  );
}

// ---------- legend ----------
const LEG_SPEEDS = ['4 m/s', '1 m/s', '0.25 m/s'];
const LEG_SODIUM_Y = [20, 47, 79];
const LEG_AMMON_Y = [113, 146, 181];
const LEG_SODIUM_K = ['G4', 'G1', 'G025'];
const LEG_AMMON_K = ['R4', 'R1', 'R025'];

const legendPlugin = {
  id: 'rotLegend',
  afterDraw(chart: any) {
    const ctx = chart.ctx;
    ctx.save();
    ctx.strokeStyle = '#aaa';
    ctx.lineWidth = 0.8;
    ctx.setLineDash([2, 1.5]);
    ctx.strokeRect(3.5, 5.5, 17.5, 193);
    ctx.setLineDash([]);
    const item = (label: string, y: number, k: string) => {
      ctx.save();
      ctx.translate(9, y);
      ctx.rotate(-Math.PI / 2);
      ctx.font = `5px "${FONT}"`;
      ctx.fillStyle = TXT;
      ctx.textAlign = 'center';
      ctx.textBaseline = 'middle';
      ctx.fillText(label, 0, 0);
      const w = ctx.measureText(label).width;
      ctx.restore();
      ctx.strokeStyle = STY[k].c;
      ctx.lineWidth = STY[k].w;
      ctx.beginPath();
      ctx.moveTo(12.5, y - w / 2);
      ctx.lineTo(12.5, y + w / 2);
      ctx.stroke();
    };
    const big = (label: string, y: number) => {
      ctx.save();
      ctx.translate(17.3, y);
      ctx.rotate(-Math.PI / 2);
      ctx.font = `8px "${FONT}"`;
      ctx.fillStyle = TXT;
      ctx.textAlign = 'center';
      ctx.textBaseline = 'middle';
      ctx.fillText(label, 0, 0);
      ctx.restore();
    };
    LEG_SPEEDS.forEach((lab, i) => item(lab, LEG_SODIUM_Y[i], LEG_SODIUM_K[i]));
    LEG_SPEEDS.forEach((lab, i) => item(lab, LEG_AMMON_Y[i], LEG_AMMON_K[i]));
    big('sodium chloride', 51);
    big('ammonium sulphate', 145);
    ctx.restore();
  },
};

function LegendBox() {
  const ref = useRef<HTMLCanvasElement>(null);
  useEffect(() => {
    const chart = new Chart(ref.current as HTMLCanvasElement, {
      type: 'line',
      data: { datasets: [] },
      options: {
        animation: false, responsive: false, devicePixelRatio: 1, events: [],
        layout: { padding: 0 },
        plugins: { legend: { display: false }, tooltip: { enabled: false } },
        scales: { x: { display: false }, y: { display: false } },
      } as any,
      plugins: [legendPlugin],
    });
    return () => chart.destroy();
  }, []);
  return <canvas ref={ref} width={22} height={205} style={{ position: 'absolute', left: 404, top: 8, width: 22, height: 205 }} />;
}

export default function App() {
  return (
    <div style={{ position: 'absolute', left: 0, top: 0, width: 426, height: 463, background: '#fff', overflow: 'hidden' }}>
      {PANELS.map((rowP, r) => rowP.map((p, c) => <Panel key={`${r}-${c}`} p={p} row={r} col={c} />))}
      <LegendBox />
    </div>
  );
}
